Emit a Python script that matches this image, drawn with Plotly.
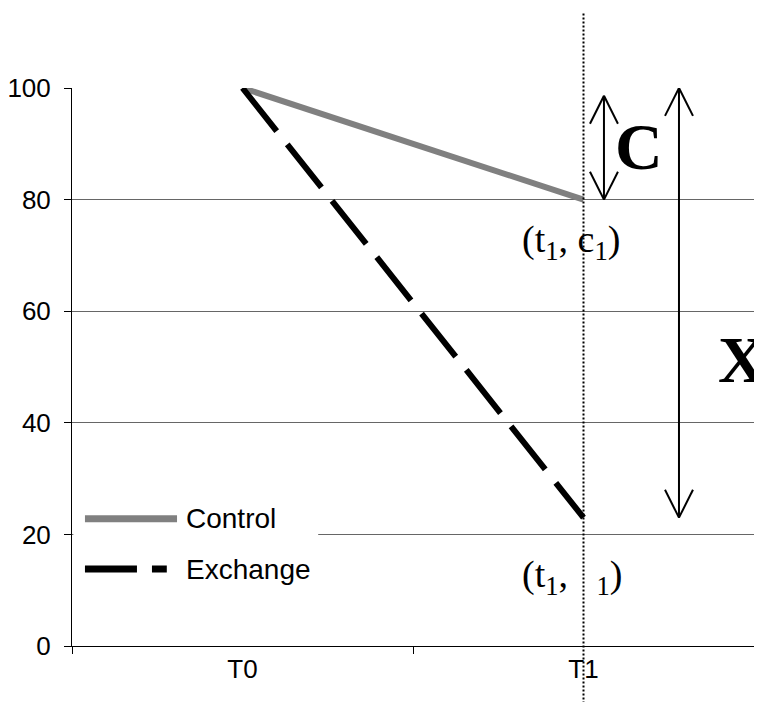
import plotly.graph_objects as go

# data
categories = ["T0", "T1"]
series_names = ["Control", "Exchange"]
control = [100, 80]
exchange = [100, 23]
y_ticks = [0, 20, 40, 60, 80, 100]

fig = go.Figure()

# the two series
fig.add_trace(go.Scatter(x=categories, y=control, mode="lines", name=series_names[0],
                         line=dict(color="#808080", width=6), showlegend=False))
fig.add_trace(go.Scatter(x=categories, y=exchange, mode="lines", name=series_names[1],
                         line=dict(color="black", width=6, dash="55px,17px"), showlegend=False))

shapes = []

# dotted vertical line through T1, running past the plot area
shapes.append(dict(type="line", xref="x", yref="paper", x0=1, x1=1, y0=-0.11, y1=1.137,
                   line=dict(color="black", width=2, dash="2px,2px")))


def double_arrow(x, y_low, y_high, dx=0.041, dy=5):
    # shaft + two open arrow heads
    ln = dict(color="black", width=2)
    out = [dict(type="line", xref="x", yref="y", x0=x, x1=x, y0=y_low, y1=y_high, line=ln)]
    for tip, sgn in ((y_high, -1), (y_low, 1)):
        out.append(dict(type="line", xref="x", yref="y", x0=x - dx, x1=x, y0=tip + sgn * dy, y1=tip, line=ln))
        out.append(dict(type="line", xref="x", yref="y", x0=x + dx, x1=x, y0=tip + sgn * dy, y1=tip, line=ln))
    return out


shapes += double_arrow(1.06, control[1], 98.6)
shapes += double_arrow(1.28, exchange[1], 100)

# hand-made legend (white box hides the 20 gridline like the original)
shapes.append(dict(type="rect", xref="paper", yref="y", x0=0.002, x1=0.361, y0=12, y1=28,
                   fillcolor="white", line=dict(width=0), layer="above"))
shapes.append(dict(type="line", xref="paper", yref="y", x0=0.019, x1=0.154, y0=22.8, y1=22.8,
                   line=dict(color="#808080", width=7)))
shapes.append(dict(type="line", xref="paper", yref="y", x0=0.019, x1=0.139, y0=13.8, y1=13.8,
                   line=dict(color="black", width=7, dash="52px,15px")))

annotations = [
    dict(x=0.164, y=22.8, xref="paper", yref="y", text=series_names[0], showarrow=False,
         xanchor="left", yanchor="middle", font=dict(family="Liberation Sans", size=28, color="black")),
    dict(x=0.164, y=13.8, xref="paper", yref="y", text=series_names[1], showarrow=False,
         xanchor="left", yanchor="middle", font=dict(family="Liberation Sans", size=28, color="black")),
    dict(x=1.164, y=89.6, xref="x", yref="y", text="<b>C</b>", showarrow=False,
         font=dict(family="Liberation Serif", size=66, color="black")),
    dict(x=1.465, y=51.3, xref="x", yref="y", text="<b>X</b>", showarrow=False,
         font=dict(family="Liberation Serif", size=66, color="black")),
    dict(x=0.815, y=72.4, xref="x", yref="y", text="(t<sub>1</sub>, c<sub>1</sub>)", showarrow=False,
         xanchor="left", font=dict(family="Liberation Serif", size=38, color="black")),
    dict(x=0.815, y=12.3, xref="x", yref="y", text="(t<sub>1</sub>,\u00a0\u00a0\u00a0<sub>1</sub>)",
         showarrow=False, xanchor="left", font=dict(family="Liberation Serif", size=38, color="black")),
]

# the page body adds an 8px offset, so the figure is 8px smaller than the window
fig.update_layout(
    width=754, height=694,
    margin=dict(l=64, r=8, t=80, b=56),
    paper_bgcolor="white", plot_bgcolor="white",
    shapes=shapes, annotations=annotations,
    font=dict(family="Liberation Sans", size=26, color="black"),
)

fig.update_xaxes(type="category", range=[-0.5, 1.5], showgrid=False, showline=True,
                 linecolor="black", linewidth=1, ticks="outside", ticklen=7, tickcolor="black",
                 tickson="boundaries", ticklabelstandoff=0, zeroline=False, automargin=False)
fig.update_yaxes(range=[0, 100], tickvals=y_ticks, showgrid=True, gridcolor="#666666", gridwidth=1,
                 showline=True, linecolor="black", linewidth=1, ticks="outside", ticklen=7,
                 tickcolor="black", ticklabelstandoff=8, zeroline=False, automargin=False)

fig.write_html("out.html")
